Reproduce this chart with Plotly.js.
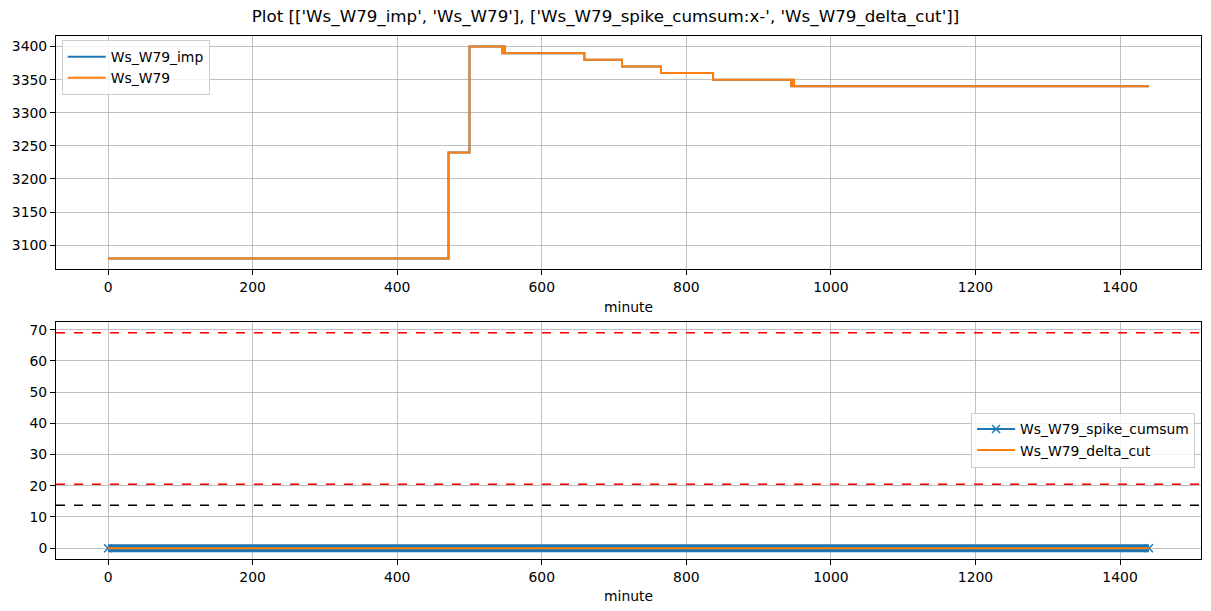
<!DOCTYPE html>
<html>
<head>
<meta charset="utf-8">
<script src="https://cdn.plot.ly/plotly-3.0.1.min.js"></script>
<style>html,body{margin:0;padding:0;background:#fff;}#chart{width:1211px;height:611px;}</style>
</head>
<body>
<div id="chart"></div>
<script>
// Step change points (minute, value) for Ws_W79 (drawn as horizontal-then-vertical steps)
const stepMinutes = [0, 471, 500, 545, 546, 547, 548, 549, 659, 711, 765, 837, 945, 946, 947, 948, 949, 950, 1440];
const wsW79       = [3080, 3240, 3400, 3390, 3400, 3390, 3400, 3390, 3380, 3370, 3360, 3350, 3340, 3350, 3340, 3350, 3340, 3340, 3340];
const wsW79Imp    = [3080, 3240, 3400, 3390, 3400, 3390, 3400, 3390, 3380, 3370, 3360, 3350, 3340, 3350, 3340, 3350, 3340, 3340, 3340];

// Bottom panel
const cutMinutes   = [0, 1440];
const spikeCumsum  = [0, 0];
const deltaCut     = [0, 0];
const redLevels    = [69, 20.5];
const blackLevels  = [13.8];

const xTicks = [0, 200, 400, 600, 800, 1000, 1200, 1400];
const yTicksTop = [3100, 3150, 3200, 3250, 3300, 3350, 3400];
const yTicksBottom = [0, 10, 20, 30, 40, 50, 60, 70];

const blue = '#1f77b4', orange = '#ff7f0e';
const font = {family: 'DejaVu Sans, sans-serif', size: 13.9, color: '#000'};

const traces = [
  {x: stepMinutes, y: wsW79Imp, name: 'Ws_W79_imp', mode: 'lines', line: {color: blue, width: 2, shape: 'hv'}, xaxis: 'x', yaxis: 'y', legend: 'legend'},
  {x: stepMinutes, y: wsW79, name: 'Ws_W79', mode: 'lines', line: {color: orange, width: 2, shape: 'hv'}, xaxis: 'x', yaxis: 'y', legend: 'legend'},
  // dense x-marker band of spike_cumsum
  {x: cutMinutes, y: spikeCumsum, mode: 'lines', line: {color: blue, width: 8}, showlegend: false, hoverinfo: 'skip', xaxis: 'x2', yaxis: 'y2'},
  {x: cutMinutes, y: spikeCumsum, name: 'Ws_W79_spike_cumsum', mode: 'lines+markers', line: {color: blue, width: 2}, marker: {symbol: 'x-thin', size: 8, line: {color: blue, width: 1.5}}, xaxis: 'x2', yaxis: 'y2', legend: 'legend2'},
  {x: cutMinutes, y: deltaCut, name: 'Ws_W79_delta_cut', mode: 'lines', line: {color: orange, width: 2}, xaxis: 'x2', yaxis: 'y2', legend: 'legend2'}
];

const shapes = [];
redLevels.forEach(v => shapes.push({type: 'line', xref: 'x2 domain', x0: 0, x1: 1, yref: 'y2', y0: v, y1: v, line: {color: 'red', width: 1.5, dash: 'dash'}}));
blackLevels.forEach(v => shapes.push({type: 'line', xref: 'x2 domain', x0: 0, x1: 1, yref: 'y2', y0: v, y1: v, line: {color: 'black', width: 1.5, dash: 'dash'}}));

const axisCommon = {
  showline: true, mirror: true, linecolor: '#000', linewidth: 1,
  ticks: 'outside', ticklen: 5, tickcolor: '#000', tickwidth: 1,
  showgrid: true, gridcolor: '#b0b0b0', gridwidth: 0.8, zeroline: false,
  tickfont: font
};

const legendCommon = {bgcolor: 'rgba(255,255,255,0.8)', bordercolor: '#cccccc', borderwidth: 1, font: font, tracegroupgap: 0, itemwidth: 38};

const layout = {
  width: 1211, height: 611,
  paper_bgcolor: '#fff', plot_bgcolor: '#fff',
  font: font,
  margin: {l: 56, r: 10, t: 36, b: 52},
  title: {text: "Plot [['Ws_W79_imp', 'Ws_W79'], ['Ws_W79_spike_cumsum:x-', 'Ws_W79_delta_cut']]", font: {family: 'DejaVu Sans, sans-serif', size: 16.7, color: '#000'}, x: 0.5, xref: 'container', xanchor: 'center', y: 0.974, yanchor: 'middle'},
  xaxis: Object.assign({}, axisCommon, {domain: [0, 1], anchor: 'y', range: [-72, 1512], tickvals: xTicks, title: {text: 'minute', font: font, standoff: 8}}),
  yaxis: Object.assign({}, axisCommon, {domain: [0.5545, 1], anchor: 'x', range: [3064, 3416], tickvals: yTicksTop}),
  xaxis2: Object.assign({}, axisCommon, {domain: [0, 1], anchor: 'y2', range: [-72, 1512], tickvals: xTicks, title: {text: 'minute', font: font, standoff: 7}}),
  yaxis2: Object.assign({}, axisCommon, {domain: [0, 0.4532], anchor: 'x2', range: [-3.45, 72.45], tickvals: yTicksBottom}),
  shapes: shapes,
  legend: Object.assign({}, legendCommon, {x: 0.005, y: 0.992, xanchor: 'left', yanchor: 'top'}),
  legend2: Object.assign({}, legendCommon, {x: 0.9948, y: 0.2275, xanchor: 'right', yanchor: 'middle'}),
  showlegend: true
};

Plotly.newPlot('chart', traces, layout, {staticPlot: true, displayModeBar: false});
</script>
</body>
</html>
